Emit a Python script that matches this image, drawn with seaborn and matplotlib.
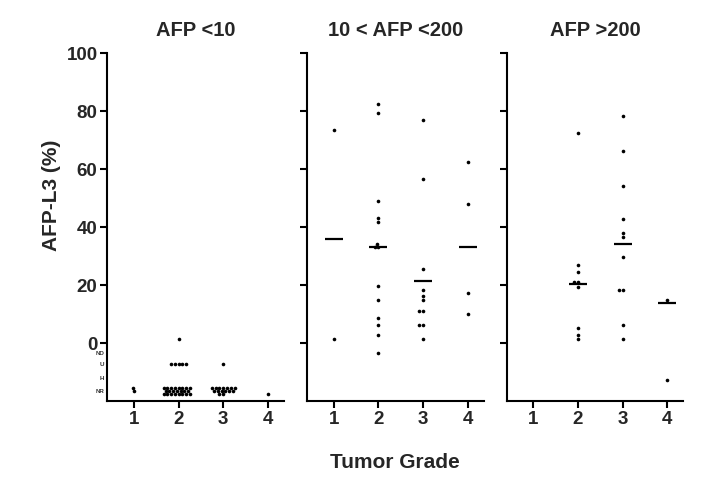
import numpy as np
import pandas as pd
import matplotlib
matplotlib.use("Agg")
import matplotlib.pyplot as plt
import seaborn as sns

sns.set_style("ticks")
plt.rcParams['font.family'] = ['Liberation Sans', 'DejaVu Sans']
plt.rcParams['font.weight'] = 'bold'

grades = ["1", "2", "3", "4"]
titles = ["AFP <10", "10 < AFP <200", "AFP >200"]

# non-numeric results plotted below 0
low_labels = ["ND", "U", "H", "NR"]
low_values = [-3.6, -7.2, -11.9, -16.4]

# AFP <10
low_g1 = [-15.4, -16.6]
low_g2 = [1.3,
          -7.2, -7.2, -7.2, -7.2, -7.2,
          -15.4, -15.4, -15.4, -15.4, -15.4, -15.4, -15.4, -15.4,
          -16.5, -16.5, -16.5, -16.5, -16.5, -16.5, -16.5,
          -17.6, -17.6, -17.6, -17.6, -17.6, -17.6, -17.6, -17.6]
low_g3 = [-7.2,
          -15.4, -15.4, -15.4, -15.4, -15.4, -15.4, -15.4,
          -16.5, -16.5, -16.5, -16.5, -16.5, -16.5,
          -17.6, -17.6]
low_g4 = [-17.6]

# 10 < AFP <200
mid_g1 = [73.4, 1.3]
mid_g2 = [82.5, 79.4, 48.9, 43.2, 41.8, 34.3, 33.2, 33.2, 19.5, 14.7, 8.6, 6.2, 2.6, -3.6]
mid_g3 = [76.9, 56.5, 25.7, 18.4, 16.3, 14.7, 11.1, 11.1, 6.2, 6.2, 1.3]
mid_g4 = [62.6, 47.9, 17.3, 10.1]
mid_lines = [35.9, 33.2, 21.5, 33.1]

# AFP >200
high_g2 = [72.6, 26.9, 24.5, 21.1, 21.1, 19.4, 5.3, 2.8, 1.4]
high_g3 = [78.2, 66.1, 54.1, 42.9, 38.0, 36.6, 29.5, 18.4, 18.4, 6.1, 1.4]
high_g4 = [14.8, -12.6]
high_lines = [np.nan, 20.3, 34.2, 13.7]


def long_df(groups):
    rows = []
    for g, vals in zip(grades, groups):
        for v in vals:
            rows.append((g, v))
    return pd.DataFrame(rows, columns=["grade", "value"])


panels = [
    (long_df([low_g1, low_g2, low_g3, low_g4]), None),
    (long_df([mid_g1, mid_g2, mid_g3, mid_g4]), mid_lines),
    (long_df([[], high_g2, high_g3, high_g4]), high_lines),
]

fig, axes = plt.subplots(1, 3, figsize=(7.2, 4.92), dpi=100)
fig.subplots_adjust(left=0.149, right=0.949, bottom=0.185, top=0.892, wspace=0.13)

for i, (ax, (df, lines)) in enumerate(zip(axes, panels)):
    sns.swarmplot(data=df, x="grade", y="value", order=grades, color="black",
                  size=2.6, ax=ax, zorder=3)
    if lines is not None:
        ldf = pd.DataFrame({"grade": grades, "value": lines}).dropna()
        sns.pointplot(data=ldf, x="grade", y="value", order=grades, color="black",
                      linestyle="none", markers="_", markersize=12.5,
                      markeredgewidth=1.6, errorbar=None, ax=ax)

    ax.set_xlim(-0.6, 3.36)
    ax.set_ylim(-20, 100)
    ax.set_yticks([0, 20, 40, 60, 80, 100])
    sns.despine(ax=ax)
    for s in ["left", "bottom"]:
        ax.spines[s].set_linewidth(1.5)
        ax.spines[s].set_color("black")
    ax.tick_params(axis="both", which="major", length=5, width=1.5, color="black",
                   labelsize=13.5, pad=2)
    ax.set_xticks(range(4))
    ax.set_xticklabels(grades, fontweight="bold")
    ax.set_xlabel("")
    ax.set_ylabel("")
    ax.set_title(titles[i], fontsize=14.5, fontweight="bold", pad=12)

    if i == 0:
        ax.set_yticklabels(["0", "20", "40", "60", "80", "100"], fontweight="bold")
        ax.set_yticks(low_values, minor=True)
        ax.set_yticklabels(low_labels, minor=True, fontsize=4.5, color="#333333")
        ax.tick_params(axis="y", which="minor", length=0, pad=2)
        ax.set_ylabel("AFP-L3 (%)", fontsize=15, fontweight="bold")
        ax.yaxis.set_label_coords(-0.26, 0.59)
    else:
        ax.set_yticklabels([])

fig.text(395 / 720, 1 - 462 / 492, "Tumor Grade", ha="center", va="center",
         fontsize=15, fontweight="bold")

fig.savefig("out.png", dpi=100)
